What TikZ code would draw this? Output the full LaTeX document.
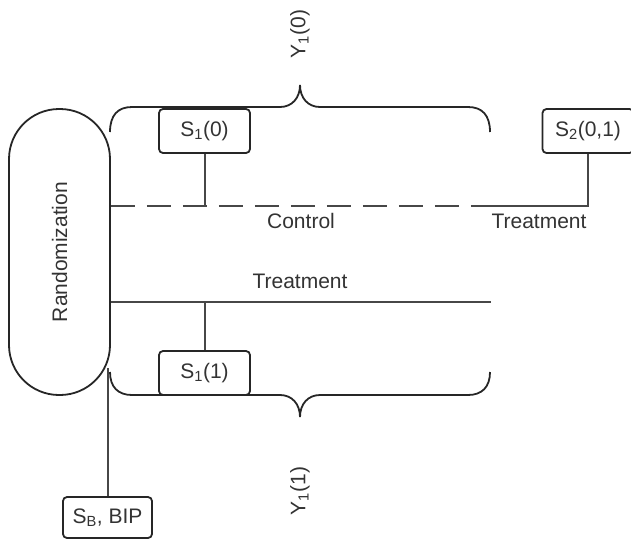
\documentclass[tikz,border=0pt]{standalone}
\usepackage{fontspec}
\setmainfont{Liberation Sans}
\usetikzlibrary{positioning}

\begin{document}
\begin{tikzpicture}[x=1pt, y=-1pt,
  font=\fontsize{21}{25}\selectfont,
  box/.style={draw=black!85, rounded corners=4pt, line width=1.8pt, minimum width=91pt, minimum height=44pt, inner sep=2pt, text=black!80},
  stad/.style={draw=black!85, rounded corners=50pt, line width=1.8pt, minimum width=101pt, minimum height=286pt, inner sep=0pt, text=black!80},
  ln/.style={draw=black!72, line width=2pt},
  brc/.style={draw=black!85, line width=1.8pt},
  lab/.style={inner sep=0pt, text=black!80}
]
\useasboundingbox (0,0) rectangle (631,539);
% randomization and the outcome boxes
\node[stad] (rand) at (59.5,252) {\rotatebox{90}{Randomization}};
\node[box] (s10) at (204.5,131) {S\textsubscript{1}(0)};
\node[box] (s201) at (588,131) {S\textsubscript{2}(0,1)};
\node[box] (s11) at (204.5,373) {S\textsubscript{1}(1)};
\node[box, minimum width=89pt, minimum height=41pt] (sb) at (107.5,517.5) {S\textsubscript{B}, BIP};
% arm labels
\node[lab, anchor=base] (ctrl) at (301,228) {Control};
\node[lab, anchor=base] (trt2) at (539,228) {Treatment};
\node[lab, anchor=base] (trt1) at (300,288) {Treatment};
\node[lab, rotate=90] (y10) at (300,34) {Y\textsubscript{1}(0)};
\node[lab, rotate=90] (y11) at (300,491) {Y\textsubscript{1}(1)};
% arms
\coordinate (cend) at (490,206);
\coordinate (tend) at (491,302);
\coordinate (sbtop) at (107.5,368);
\draw[ln, dash pattern=on 24pt off 12pt] (rand.east |- cend) -- (cend);
\draw[ln] (cend) -| (s201.south);
\draw[ln] (s10.south) -- (s10.south |- cend);
\draw[ln] (rand.east |- tend) -- (tend);
\draw[ln] (s11.north) -- (s11.north |- tend);
\draw[ln] (sb.north) -- (sbtop);
% braces
\draw[brc] (110,132) .. controls (110,115) and (118,107) .. (132,107) -- (280,107)
  .. controls (292,107) and (300,98) .. (300,85)
  .. controls (300,98) and (308,107) .. (320,107) -- (468,107)
  .. controls (482,107) and (490,115) .. (490,132);
\draw[brc] (110,372) .. controls (110,387) and (118,395) .. (132,395) -- (280,395)
  .. controls (292,395) and (300,404) .. (300,417)
  .. controls (300,404) and (308,395) .. (320,395) -- (468,395)
  .. controls (482,395) and (490,387) .. (490,372);
\end{tikzpicture}
\end{document}
